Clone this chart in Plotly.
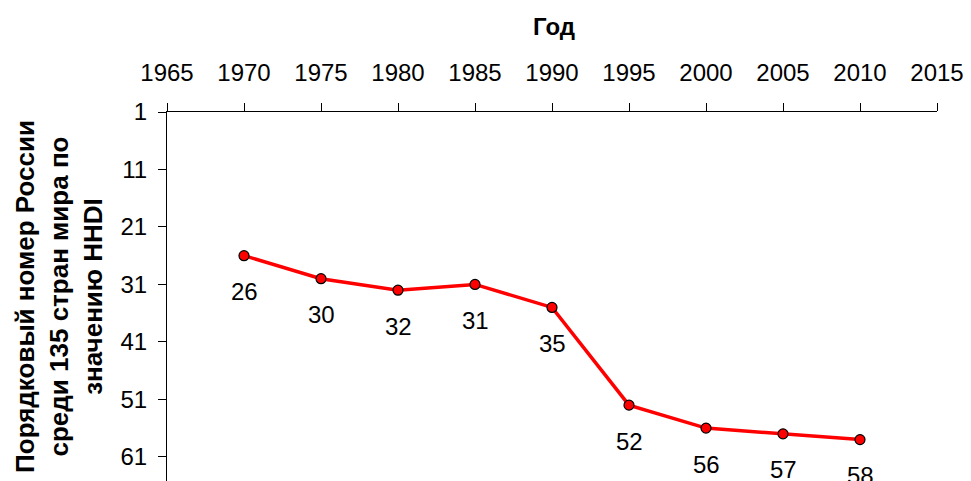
import plotly.graph_objects as go

# Место России среди 135 стран по HHDI
years = [1970, 1975, 1980, 1985, 1990, 1995, 2000, 2005, 2010]
ranks = [26, 30, 32, 31, 35, 52, 56, 57, 58]

x_ticks = list(range(1965, 2016, 5))
y_ticks = [1, 11, 21, 31, 41, 51, 61]

FONT = "Liberation Sans, Arial, sans-serif"
W, H = 963, 473  # страница сдвинута на 8px отступом body

fig = go.Figure()
fig.add_trace(go.Scatter(
    x=years, y=ranks,
    mode="lines+markers",
    line=dict(color="#ff0000", width=3.5),
    marker=dict(color="#ff0000", size=10, line=dict(color="black", width=1.2)),
    cliponaxis=False,
    showlegend=False,
))

# подписи значений под точками
for xv, yv in zip(years, ranks):
    fig.add_annotation(x=xv, y=yv, text=str(yv), showarrow=False,
                       yshift=-36, font=dict(size=24, color="black", family=FONT))

fig.update_layout(
    width=W, height=H,
    margin=dict(l=159, r=34, t=104, b=0),
    paper_bgcolor="white", plot_bgcolor="white",
    font=dict(family=FONT, size=24, color="black"),
    title=dict(text="<b>Год</b>", x=546 / W, xanchor="center",
               xref="container",
               y=1 - 19 / H, yanchor="middle", yref="container",
               font=dict(size=24)),
    xaxis=dict(
        side="top", range=[1965, 2015], tickvals=x_ticks,
        showline=True, linecolor="black", linewidth=1,
        ticks="outside", ticklen=8, tickcolor="black",
        ticklabelstandoff=12,
        showgrid=False, zeroline=False, automargin=False,
    ),
    yaxis=dict(
        range=[65.2, 1], tickvals=y_ticks,
        showline=True, linecolor="black", linewidth=1,
        ticks="outside", ticklen=8, tickcolor="black",
        ticklabelstandoff=6,
        showgrid=False, zeroline=False, automargin=False,
        title=dict(text="<b>Порядковый номер России<br>среди 135 стран мира по<br>значению HHDI</b>",
                   font=dict(size=26), standoff=10),
    ),
)

fig.write_html("out.html")
